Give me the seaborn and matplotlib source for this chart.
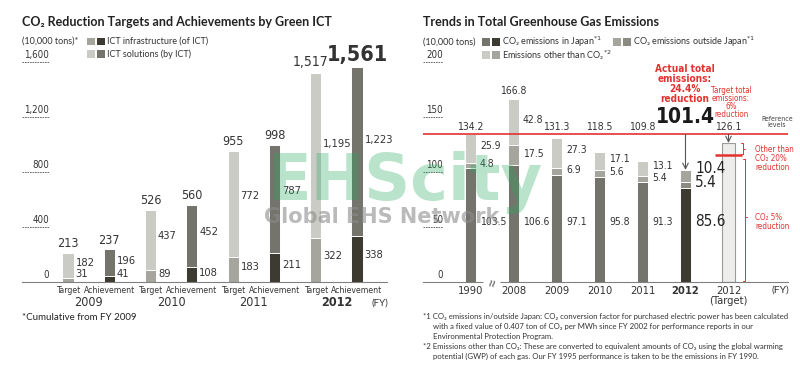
import matplotlib
matplotlib.use('Agg')
import matplotlib.pyplot as plt
import matplotlib.transforms as mtransforms
from matplotlib.patches import Rectangle
from matplotlib import font_manager
import pandas as pd
import seaborn as sns

# left chart: CO2 reduction by Green ICT (10,000 tons, cumulative from FY2009)
fy_years = ['2009', '2010', '2011', '2012']
target_infra = [31, 89, 183, 322]
target_solutions = [182, 437, 772, 1195]
target_total = [213, 526, 955, 1517]
achieve_infra = [41, 108, 211, 338]
achieve_solutions = [196, 452, 787, 1223]
achieve_total = [237, 560, 998, 1561]
left_ticks = [0, 400, 800, 1200, 1600]

# right chart: total greenhouse gas emissions (10,000 tons)
ghg_years = ['1990', '2008', '2009', '2010', '2011', '2012']
co2_japan = [103.5, 106.6, 97.1, 95.8, 91.3, 85.6]
co2_outside = [4.8, 17.5, 6.9, 5.6, 5.4, 5.4]
other_gas = [25.9, 42.8, 27.3, 17.1, 13.1, 10.4]
ghg_total = [134.2, 166.8, 131.3, 118.5, 109.8, 101.4]
target_2012 = 126.1
other_cut_level = 115.5
right_ticks = [0, 50, 100, 150, 200]

LIGHT = '#cbcbc5'
MID = '#a5a49d'
MID2 = '#8b8a83'
DARK = '#74736c'
DARKEST = '#3c3a31'
RED = '#e3322f'
TXT = '#333333'

sns.set_style('white')
plt.rcParams['font.family'] = ['Lato', 'DejaVu Sans']

# the original uses a narrow face for figures; take a condensed one if there is one
NK = {'family': ['Lato', 'DejaVu Sans']}
for fam in ['Noto Sans', 'DejaVu Sans', 'Open Sans', 'Roboto']:
    stretches = {f.stretch for f in font_manager.fontManager.ttflist if f.name == fam}
    hit = [s for s in ['condensed', 'semi-condensed'] if s in stretches]
    if hit:
        NK = {'family': [fam, 'DejaVu Sans'], 'fontstretch': hit[0]}
        break

W, H = 800, 379
fig = plt.figure(figsize=(8, 3.79), dpi=100)


def fx(x):
    return x / W


def fy(y):
    return 1 - y / H


def swatch(x, y, c):
    fig.add_artist(Rectangle((fx(x), fy(y + 3.5)), 8 / W, 7 / H,
                             transform=fig.transFigure, facecolor=c, edgecolor='none'))


axL = fig.add_axes([fx(22), fy(282), 365 / W, 242 / H])
axR = fig.add_axes([fx(423), fy(282), 365 / W, 242 / H])

# ---------------- left chart ----------------
rows = []
for i, yr in enumerate(fy_years):
    rows.append({'bar': yr + ' T', 'kind': 'Target', 'infra': target_infra[i],
                 'sol': target_solutions[i], 'total': target_total[i]})
    rows.append({'bar': yr + ' A', 'kind': 'Achievement', 'infra': achieve_infra[i],
                 'sol': achieve_solutions[i], 'total': achieve_total[i]})
left = pd.DataFrame(rows)
order_l = list(left['bar'])
kwl = dict(order=order_l, hue='kind', dodge=False, width=0.27, edgecolor='white',
           linewidth=0.7, errorbar=None, legend=False, saturation=1, ax=axL)
sns.barplot(data=left, x='bar', y='total', palette={'Target': LIGHT, 'Achievement': DARK}, **kwl)
sns.barplot(data=left, x='bar', y='infra', palette={'Target': MID, 'Achievement': DARKEST}, **kwl)
axL.set_xlim(-1.114, 7.726)
axL.set_ylim(0, 1760)

for j, r in left.iterrows():
    last = r['bar'].startswith('2012')
    if last and r['kind'] == 'Achievement':
        fs, fw, off = 15.5, 'bold', (0, 1.5)
    elif last:
        fs, fw, off = 10, 'normal', (-4, 3)
    else:
        fs, fw, off = 9, 'medium', (0, 2)
    axL.annotate(f"{r['total']:,}", (j, r['total']), xytext=off, textcoords='offset points',
                 ha='center', va='bottom', fontsize=fs, fontweight=fw, color=TXT, **NK)
    axL.text(j + 0.18, r['infra'] + r['sol'] * 0.57, f"{r['sol']:,}", ha='left', va='center',
             fontsize=8, color=TXT, **NK)
    axL.text(j + 0.18, max(r['infra'] * 0.58, 60), f"{r['infra']:,}", ha='left', va='center',
             fontsize=8, color=TXT, **NK)

axL.set_xticks(range(8))
axL.set_xticklabels(['Target', 'Achievement'] * 4, fontsize=6.2, color=TXT, **NK)
axL.tick_params(axis='x', length=0, pad=3)
axL.set_yticks([])
axL.set_xlabel('')
axL.set_ylabel('')
sns.despine(ax=axL, left=True)
axL.spines['bottom'].set_color('#808080')

tx = mtransforms.blended_transform_factory(axL.transData, axL.transAxes)
for i, yr in enumerate(fy_years):
    axL.text(2 * i + 0.5, -21 / 242, yr, transform=tx, ha='center', va='center', fontsize=9,
             fontweight='bold' if yr == '2012' else 'normal', color=TXT, **NK)

ty = mtransforms.blended_transform_factory(axL.transAxes, axL.transData)
for v in left_ticks:
    axL.text(27 / 365, v, f'{v:,}', transform=mtransforms.offset_copy(ty, fig=fig, y=2, units='dots'),
             ha='right', va='bottom', fontsize=7, color=TXT, **NK)
    if v:
        axL.plot([0, 27 / 365], [v, v], transform=ty, ls=(0, (2, 1)), lw=0.6, color='#555',
                 clip_on=False)

# ---------------- right chart ----------------
cats_r = ghg_years + ['2012 (Target)']
right = pd.DataFrame({'year': ghg_years, 'japan': co2_japan, 'outside': co2_outside,
                      'other': other_gas, 'total': ghg_total})
right['lower'] = right['japan'] + right['outside']
right['tone'] = ['past'] * 5 + ['latest']
kwr = dict(order=cats_r, hue='tone', dodge=False, width=0.27, edgecolor='white',
           linewidth=0.7, errorbar=None, legend=False, saturation=1, ax=axR)
sns.barplot(data=right, x='year', y='total', palette={'past': LIGHT, 'latest': MID}, **kwr)
sns.barplot(data=right, x='year', y='lower', palette={'past': MID, 'latest': MID2}, **kwr)
sns.barplot(data=right, x='year', y='japan', palette={'past': DARK, 'latest': DARKEST}, **kwr)
tgt = pd.DataFrame({'year': ['2012 (Target)'], 'total': [target_2012]})
sns.barplot(data=tgt, x='year', y='total', order=cats_r, color='#ededeb', edgecolor='#9b9b9b',
            linewidth=0.8, width=0.3, errorbar=None, saturation=1, ax=axR)
axR.set_xlim(-1.105, 7.384)
axR.set_ylim(0, 220)

ref = ghg_total[0]
axR.axhline(ref, color=RED, lw=1.2, zorder=3)

for i in range(6):
    latest = i == 5
    fs = 11 if latest else 7.5
    col = '#222' if latest else TXT
    axR.text(i + 0.22, 55, f'{co2_japan[i]}', ha='left', va='center', fontsize=fs, color=col, **NK)
    axR.text(i + 0.22, co2_japan[i] + co2_outside[i] / 2 + (2.5 if latest else 1), f'{co2_outside[i]}',
             ha='left', va='center', fontsize=fs, color=col, **NK)
    axR.text(i + 0.22, right['lower'][i] + other_gas[i] / 2 + (7 if latest else 2), f'{other_gas[i]}',
             ha='left', va='center', fontsize=fs, color=col, **NK)
    if not latest:
        axR.text(i, max(ghg_total[i], ref) + 2, f'{ghg_total[i]}', ha='center', va='bottom',
                 fontsize=7.5, color=TXT, **NK)
axR.text(6, max(target_2012, ref) + 2, f'{target_2012}', ha='center', va='bottom', fontsize=7.5,
         color=TXT, **NK)
axR.text(5, 150, f'{ghg_total[5]}', ha='center', va='center', fontsize=15, fontweight='bold',
         color='#1a1a1a', **NK)

axR.text(4.98, 180, 'Actual total\nemissions:\n24.4%\nreduction', ha='center', va='center',
         color=RED, fontsize=7.2, fontweight='bold', linespacing=1.0, **NK)
axR.text(6.06, 163.5, 'Target total\nemissions:\n6%\nreduction', ha='center', va='center',
         color=RED, fontsize=5.8, linespacing=0.85, **NK)
axR.text(7.13, 145.5, 'Reference\nlevels', ha='center', va='center', color='#444', fontsize=5,
         linespacing=0.95, **NK)

arrow = dict(arrowstyle='->', color='#555', lw=0.8, shrinkA=0, shrinkB=0)
axR.annotate('', xy=(5, ghg_total[5] + 0.5), xytext=(5, ref), arrowprops=arrow)
axR.annotate('', xy=(6, target_2012 + 0.3), xytext=(6, ref), arrowprops=arrow)

axR.plot([5.69, 6.31], [other_cut_level] * 2, color=RED, lw=1.8, solid_capstyle='butt')
axR.plot([6.30, 6.34, 6.34, 6.30], [target_2012, target_2012, other_cut_level + 0.5, other_cut_level + 0.5],
         color=RED, lw=0.7)
axR.plot([6.34, 6.39], [(target_2012 + other_cut_level) / 2] * 2, color=RED, lw=0.7)
axR.plot([6.33, 6.38, 6.38, 6.33], [112, 112, 0.8, 0.8], color=RED, lw=0.7)
axR.plot([6.38, 6.43], [59, 59], color=RED, lw=0.7)
axR.text(6.62, 112.7, 'Other than\nCO₂ 20%\nreduction', ha='left', va='center', color=RED,
         fontsize=5.8, linespacing=1.0, **NK)
axR.text(6.62, 55, 'CO₂ 5%\nreduction', ha='left', va='center', color=RED, fontsize=5.8,
         linespacing=1.0, **NK)

axR.set_xticks(range(7))
axR.set_xticklabels(ghg_years + ['2012\n(Target)'], fontsize=8, color=TXT, linespacing=0.95, **NK)
axR.get_xticklabels()[5].set_fontweight('bold')
axR.tick_params(axis='x', length=0, pad=3)
axR.set_yticks([])
axR.set_xlabel('')
axR.set_ylabel('')
sns.despine(ax=axR, left=True)
axR.spines['bottom'].set_color('#808080')
axR.text(0.5, 0, '≈', rotation=80, ha='center', va='center', fontsize=12, color='#666',
         bbox=dict(fc='white', ec='none', pad=0.2), zorder=4)

tyr = mtransforms.blended_transform_factory(axR.transAxes, axR.transData)
for v in right_ticks:
    axR.text(20 / 365, v, f'{v}', transform=mtransforms.offset_copy(tyr, fig=fig, y=2, units='dots'),
             ha='right', va='bottom', fontsize=7, color=TXT, **NK)
    if v:
        axR.plot([0, 20 / 365], [v, v], transform=tyr, ls=(0, (2, 1)), lw=0.6, color='#555',
                 clip_on=False)

# ---------------- titles, legends, notes ----------------
fig.text(fx(22), fy(21.5), 'CO₂ Reduction Targets and Achievements by Green ICT', fontsize=9,
         fontweight='bold', va='center', color='#222')
fig.text(fx(423), fy(21.5), 'Trends in Total Greenhouse Gas Emissions', fontsize=9,
         fontweight='bold', va='center', color='#222')

fig.text(fx(22), fy(41.5), '(10,000 tons)*', fontsize=6.5, va='center', color=TXT)
swatch(87, 41.5, MID)
swatch(97, 41.5, DARKEST)
fig.text(fx(107), fy(41.5), 'ICT infrastructure (of ICT)', fontsize=6.5, va='center', color=TXT)
swatch(87, 54, LIGHT)
swatch(97, 54, DARK)
fig.text(fx(107), fy(54), 'ICT solutions (by ICT)', fontsize=6.5, va='center', color=TXT)

fig.text(fx(423), fy(42), '(10,000 tons)', fontsize=6.5, va='center', color=TXT)
swatch(482, 42, DARK)
swatch(492, 42, DARKEST)
fig.text(fx(502), fy(42), 'CO₂ emissions in Japan$^{*1}$', fontsize=6.5, va='center', color=TXT)
swatch(613, 42, MID)
swatch(623, 42, MID2)
fig.text(fx(633), fy(42), 'CO₂ emissions outside Japan$^{*1}$', fontsize=6.5, va='center', color=TXT)
swatch(482, 55, LIGHT)
swatch(492, 55, MID)
fig.text(fx(502), fy(55), 'Emissions other than CO₂$^{*2}$', fontsize=6.5, va='center', color=TXT)

fig.text(fx(380), fy(303), '(FY)', fontsize=7, ha='center', va='center', color=TXT)
fig.text(fx(780), fy(290), '(FY)', fontsize=7.5, ha='center', va='center', color=TXT)
fig.text(fx(22), fy(318), '*Cumulative from FY 2009', fontsize=7, va='center', color='#222')

notes = [
    (423, 317, '*1 CO₂ emissions in/outside Japan: CO₂ conversion factor for purchased electric power has been calculated'),
    (433, 326.5, 'with a fixed value of 0.407 ton of CO₂ per MWh since FY 2002 for performance reports in our'),
    (433, 336, 'Environmental Protection Program.'),
    (423, 347, '*2 Emissions other than CO₂: These are converted to equivalent amounts of CO₂ using the global warming'),
    (433, 356.5, 'potential (GWP) of each gas. Our FY 1995 performance is taken to be the emissions in FY 1990.'),
]
for x, y, s in notes:
    fig.text(fx(x), fy(y), s, fontsize=5.6, va='center', color=TXT)

# watermark
fig.text(fx(405), fy(200), 'EHScity', fontsize=46, fontweight='bold', family='DejaVu Sans',
         ha='center', va='baseline', color='#2eaa62', alpha=0.33, zorder=10)
fig.text(fx(382), fy(217), 'Global EHS Network', fontsize=15, fontweight='bold',
         family='DejaVu Sans', ha='center', va='center', color='#8c8c8c', alpha=0.6, zorder=10)

fig.savefig('out.png', dpi=100)
